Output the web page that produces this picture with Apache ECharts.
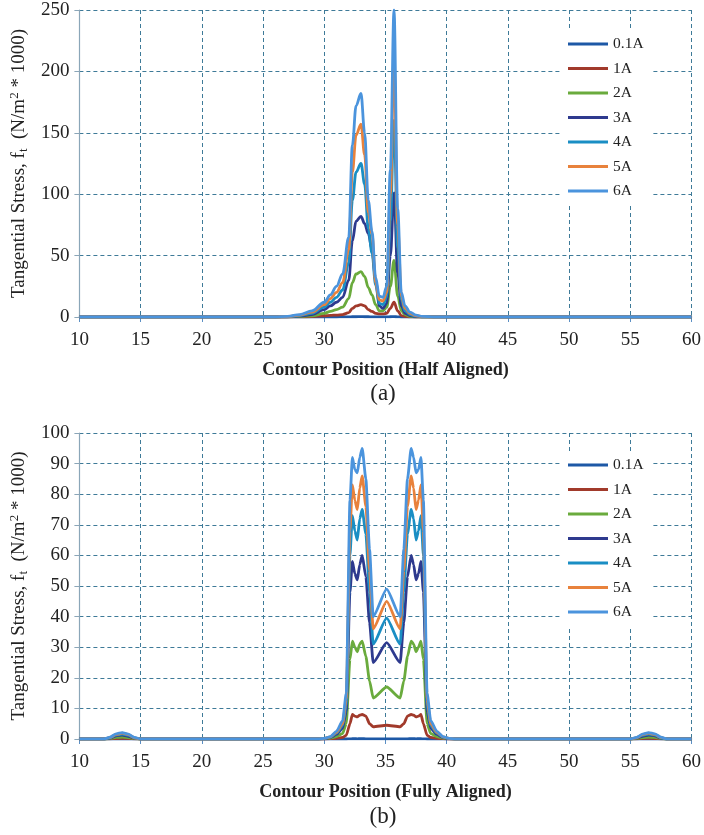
<!DOCTYPE html>
<html>
<head>
<meta charset="utf-8">
<script src="https://cdn.jsdelivr.net/npm/echarts@6/dist/echarts.min.js"></script>
<style>
html,body{margin:0;padding:0;background:#fff;}
#c{width:704px;height:835px;}
</style>
</head>
<body>
<div id="c"></div>
<script>
// ---------- DATA ----------
const seriesNames = ['0.1A', '1A', '2A', '3A', '4A', '5A', '6A'];
const xTicksMin = 10, xTicksMax = 60, xTickStep = 5;
const yTopMax = 250, yTopStep = 50;
const yBotMax = 100, yBotStep = 10;

// (a) Half aligned
const xTop = [10, 26, 27, 28, 29, 30, 30.5, 31, 31.5, 32, 32.3, 32.6, 33, 33.3, 33.6, 33.9, 34.2, 34.5, 34.8, 35.1, 35.4, 35.7, 36.0, 36.3, 36.6, 37, 37.5, 38, 39, 60];
const top01 = [0, 0, 0, 0, 0, 0, 0, 0, 0.1, 0.1, 0.2, 0.2, 0.3, 0.2, 0.2, 0.1, 0.1, 0.1, 0.1, 0.1, 0.2, 0.3, 0.1, 0, 0, 0, 0, 0, 0, 0];
const top1  = [0, 0, 0, 0.1, 0.3, 1, 1.3, 1.6, 2, 3.5, 7, 9, 10, 9, 6, 4.5, 3, 2.5, 2.5, 3, 7, 12, 5, 1.2, 0.5, 0.2, 0, 0, 0, 0];
const top2  = [0, 0, 0.1, 0.4, 1, 3, 4.5, 6, 8, 15, 28, 35, 37, 33, 24, 18, 10, 5, 5, 8, 25, 46, 17, 5, 2, 0.6, 0.2, 0, 0, 0];
const top3  = [0, 0, 0.2, 0.8, 2, 6, 9, 12, 16, 30, 62, 78, 82, 76, 68, 55, 30, 9, 7, 11, 50, 101, 36, 9, 3, 1.2, 0.4, 0.1, 0, 0];
const top4  = [0, 0, 0.3, 1.2, 3, 8, 12, 16, 22, 44, 95, 118, 125, 108, 72, 52, 26, 11, 10, 16, 78, 160, 56, 14, 5, 2, 0.7, 0.2, 0, 0];
const top5  = [0, 0, 0.4, 1.6, 4, 10, 15, 20, 28, 55, 118, 148, 157, 132, 85, 68, 28, 14, 13, 20, 100, 211, 75, 17, 7, 3, 1, 0.3, 0, 0];
const top6  = [0, 0, 0.5, 2, 5, 12, 18, 25, 35, 65, 140, 172, 182, 150, 95, 70, 32, 17, 16, 25, 120, 250, 88, 20, 9, 4, 1.5, 0.5, 0, 0];

// (b) Fully aligned
const xBot = [10, 12, 12.5, 13, 13.5, 14, 14.5, 15,
  29.5, 30, 30.5, 31, 31.5, 31.8, 32.1, 32.3, 32.5, 32.7, 32.9, 33.1, 33.4, 33.7, 34.0,
  35.1,
  36.2, 36.5, 36.8, 37.1, 37.3, 37.5, 37.7, 37.9, 38.1, 38.4, 38.7, 39.2, 39.7, 40.2, 40.7,
  55, 55.5, 56, 56.5, 57, 57.5, 58, 60];
const bot01 = [0, 0, 0, 0, 0, 0, 0, 0,
  0, 0, 0, 0, 0, 0, 0.05, 0.08, 0.08, 0.07, 0.08, 0.08, 0.07, 0.06, 0.05,
  0.05,
  0.05, 0.06, 0.07, 0.08, 0.08, 0.07, 0.08, 0.08, 0.05, 0, 0, 0, 0, 0, 0,
  0, 0, 0, 0, 0, 0, 0, 0];
const bot1 = [0, 0, 0.05, 0.15, 0.2, 0.15, 0.05, 0,
  0, 0, 0.1, 0.2, 0.5, 1.2, 5, 8, 7.5, 7.2, 7.8, 8, 7.5, 5, 4,
  4.5,
  4, 5, 7.5, 8, 7.8, 7.2, 7.5, 8, 5, 1.2, 0.5, 0.2, 0.1, 0, 0,
  0, 0.05, 0.15, 0.2, 0.15, 0.05, 0, 0];
const bot2 = [0, 0, 0.15, 0.5, 0.6, 0.45, 0.15, 0,
  0, 0.1, 0.3, 0.8, 1.8, 5, 26, 32, 30, 28.5, 31, 32, 27, 19, 13.4,
  17,
  13.4, 19, 27, 32, 31, 28.5, 30, 32, 26, 5, 1.8, 0.8, 0.3, 0.1, 0,
  0, 0.15, 0.45, 0.6, 0.5, 0.15, 0, 0];
const bot3 = [0, 0, 0.3, 1.0, 1.3, 0.9, 0.3, 0,
  0, 0.1, 0.5, 1.5, 3.5, 9, 48, 58, 54, 52, 57, 60, 53, 38, 25,
  31.5,
  25, 38, 53, 60, 57, 52, 54, 58, 48, 9, 3.5, 1.5, 0.5, 0.1, 0,
  0, 0.3, 0.9, 1.3, 1.0, 0.3, 0, 0];
const bot4 = [0, 0, 0.4, 1.3, 1.6, 1.2, 0.4, 0,
  0, 0.2, 0.6, 1.9, 4.3, 11, 60, 73, 68, 65, 72, 75, 67, 48, 31,
  39.5,
  31, 48, 67, 75, 72, 65, 68, 73, 60, 11, 4.3, 1.9, 0.6, 0.2, 0,
  0, 0.4, 1.2, 1.6, 1.3, 0.4, 0, 0];
const bot5 = [0, 0, 0.5, 1.5, 1.9, 1.4, 0.4, 0,
  0, 0.2, 0.7, 2.2, 5, 13, 68, 83, 78, 75, 82, 86, 76, 55, 36,
  45,
  36, 55, 76, 86, 82, 75, 78, 83, 68, 13, 5, 2.2, 0.7, 0.2, 0,
  0, 0.4, 1.4, 1.9, 1.5, 0.5, 0, 0];
const bot6 = [0, 0, 0.6, 1.7, 2.1, 1.6, 0.5, 0,
  0, 0.2, 0.8, 2.5, 6, 15, 78, 92, 88, 87, 92, 95, 85, 62, 40,
  49,
  40, 62, 85, 95, 92, 87, 88, 92, 78, 15, 6, 2.5, 0.8, 0.2, 0,
  0, 0.5, 1.6, 2.1, 1.7, 0.6, 0, 0];

const topSeries = [top01, top1, top2, top3, top4, top5, top6];
const botSeries = [bot01, bot1, bot2, bot3, bot4, bot5, bot6];
const colors = ['#1d58a6', '#a13a2b', '#6aab3d', '#2e3a8e', '#1a8ec4', '#e8823c', '#4b94dd'];

// ---------- CHART ----------
const SERIF = '"Liberation Serif", "DejaVu Serif", serif';
const gridColor = '#3e7a98';

function mkX(gridIndex, name) {
  return {
    type: 'value', gridIndex, min: xTicksMin, max: xTicksMax, interval: xTickStep,
    name, nameLocation: 'middle', nameGap: 44,
    nameTextStyle: { fontFamily: SERIF, fontWeight: 'bold', fontSize: 18, color: '#222' },
    axisLine: { show: true, onZero: false, lineStyle: { color: '#5b8fc4', width: 1.5 } },
    axisTick: { show: true, length: 5, lineStyle: { color: '#5b8fc4' } },
    axisLabel: { fontFamily: SERIF, fontSize: 19, color: '#222', margin: 14 },
    splitLine: { show: true, lineStyle: { color: gridColor, type: [4, 3], width: 1 } }
  };
}
const yName = 'Tangential Stress, f{sub|t}  (N/m{sup|2} * 1000)';
function mkY(gridIndex, max, step) {
  return {
    type: 'value', gridIndex, min: 0, max, interval: step,
    name: yName, nameLocation: 'middle', nameGap: 46, nameRotate: 90,
    nameTextStyle: {
      fontFamily: SERIF, fontSize: 19, color: '#222',
      rich: {
        sub: { fontFamily: SERIF, fontSize: 13, color: '#222', padding: [9, 0, 0, 0] },
        sup: { fontFamily: SERIF, fontSize: 13, color: '#222', padding: [0, 0, 9, 0] }
      }
    },
    axisLine: { show: true, lineStyle: { color: '#8ba6b8', width: 1.2 } },
    axisTick: { show: true, length: 5, lineStyle: { color: '#8ba6b8' } },
    axisLabel: { fontFamily: SERIF, fontSize: 19, color: '#222', margin: 10 },
    splitLine: { show: true, lineStyle: { color: gridColor, type: [4, 3], width: 1 } }
  };
}
function mkLegend(top) {
  return {
    orient: 'vertical', left: 562, top,
    data: seriesNames, icon: 'rect', itemWidth: 40, itemHeight: 3, itemGap: 6.5,
    backgroundColor: '#fff', padding: [4, 8, 6, 6],
    textStyle: { fontFamily: SERIF, fontSize: 15.5, color: '#222', lineHeight: 18 },
    selectedMode: false
  };
}

const series = [];
seriesNames.forEach((n, i) => {
  series.push({
    name: n, type: 'line', xAxisIndex: 0, yAxisIndex: 0, showSymbol: false, symbol: 'none',
    smooth: 0.35, smoothMonotone: 'x', color: colors[i],
    lineStyle: { width: 2.8, color: colors[i] },
    data: xTop.map((x, k) => [x, topSeries[i][k]])
  });
});
seriesNames.forEach((n, i) => {
  series.push({
    name: n, type: 'line', xAxisIndex: 1, yAxisIndex: 1, showSymbol: false, symbol: 'none',
    smooth: 0.2, smoothMonotone: 'x', color: colors[i],
    lineStyle: { width: 2.8, color: colors[i] },
    data: xBot.map((x, k) => [x, botSeries[i][k]])
  });
});

const chart = echarts.init(document.getElementById('c'), null, { renderer: 'canvas' });
chart.setOption({
  animation: false,
  backgroundColor: '#fff',
  grid: [
    { left: 77, top: 10, width: 616, height: 307 },
    { left: 77, top: 433, width: 616, height: 306 }
  ],
  xAxis: [mkX(0, 'Contour Position (Half Aligned)'), mkX(1, 'Contour Position (Fully Aligned)')],
  yAxis: [mkY(0, yTopMax, yTopStep), mkY(1, yBotMax, yBotStep)],
  legend: [mkLegend(31), mkLegend(452)],
  graphic: [
    { type: 'text', x: 383, y: 394, style: { text: '(a)', font: '23px ' + SERIF, fill: '#222', align: 'center', verticalAlign: 'middle' } },
    { type: 'text', x: 383, y: 817, style: { text: '(b)', font: '23px ' + SERIF, fill: '#222', align: 'center', verticalAlign: 'middle' } }
  ],
  series
});
</script>
</body>
</html>
